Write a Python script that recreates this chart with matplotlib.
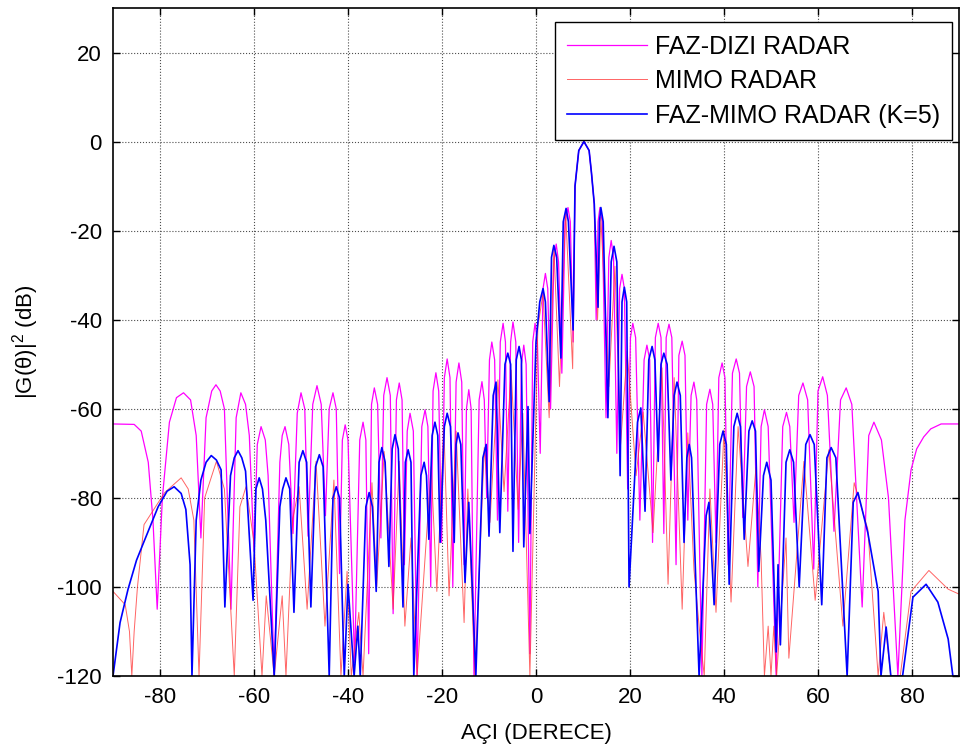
import matplotlib
matplotlib.use("Agg")
import matplotlib.pyplot as plt

plt.rcParams['font.family'] = ['Liberation Sans', 'DejaVu Sans']
plt.rcParams['mathtext.fontset'] = 'custom'
plt.rcParams['mathtext.rm'] = 'Liberation Sans'
plt.rcParams['axes.unicode_minus'] = False

# FAZ-DIZI RADAR (magenta) - angle (deg) / level (dB)
faz_aci = [-90, -85.5, -84, -82.5, -81.5, -80.6, -79.5, -78, -76.5, -75, -73.5, -72.3, -71.3,
           -70.2, -69, -68.1, -67.2, -66.3, -64.9, -63.8, -62.8, -61.8, -61, -60, -59.3, -58.5,
           -57.6, -57, -55.7, -54.5, -54, -53.4, -52.6, -51.7, -50.8, -50, -49.2, -48.5, -47.5,
           -46.6, -45.7, -44.8, -44, -43.2, -42.5, -41.8, -41.2, -40.6, -40, -38.6, -37.5, -36.8,
           -36.2, -35.6, -35, -34.4, -33.7, -33, -32.4, -31.7, -31, -30.4, -29.7, -29.1, -28.5,
           -28, -27.4, -26.8, -26.1, -25.3, -24.3, -23.6, -23, -22.4, -21.9, -21.3, -20.7, -20.1,
           -19.5, -18.9, -18.3, -17.7, -17, -16.4, -15.8, -15.3, -14.8, -14.3, -13.8, -13.2,
           -12.1, -11.5, -11, -10.5, -9.9, -9.4, -8.8, -8.2, -7.6, -7, -6.5, -6, -5.4, -4.9,
           -4.3, -3.7, -3.1, -2.6, -2.1, -1.3, -0.7, -0.2, 0.3, 0.9, 1.5, 2, 2.5, 3.1, 3.8, 4.3,
           4.8, 5.5, 6.2, 6.8, 7.3, 7.9, 8.3, 9.1, 10.2, 11.3, 11.8, 12.4, 12.8, 13.2, 13.6,
           14.1, 14.9, 15.5, 16, 16.5, 17.2, 17.8, 18.3, 18.8, 19.5, 20.1, 20.6, 21.2, 22.1, 23,
           23.6, 24.2, 24.8, 25.4, 26, 26.6, 27.2, 27.7, 28.3, 28.9, 29.8, 30.4, 31.1, 31.7,
           32.3, 33, 33.6, 34.2, 35.3, 36.3, 37, 37.6, 38.3, 38.9, 39.6, 40.2, 40.9, 41.8, 42.6,
           43.3, 44, 44.8, 45.6, 46.4, 47.2, 47.9, 48.6, 49.4, 51.1, 52.5, 53.3, 54, 54.9, 55.9,
           56.8, 57.8, 59.1, 60, 61, 62, 63.4, 64.8, 66, 67.2, 69.4, 70.8, 71.9, 73.5, 75, 77,
           78.5, 79.8, 81, 82.5, 84, 86.2, 90]
faz_db = [-63.4, -63.5, -65, -72, -85, -105, -80, -63, -57.5, -56.4, -58, -66, -89,
          -62, -56, -54.6, -56, -60, -105, -62, -56.4, -59, -66, -92, -68, -64,
          -67, -75, -120, -72, -66, -64, -68, -88, -61, -56.4, -60, -88.6, -59,
          -54.8, -59, -84, -60, -56.4, -60, -97, -67, -63.6, -67, -117, -67, -63,
          -67, -115, -59, -55.3, -59, -89, -57, -53, -57, -106, -58, -54.2, -58,
          -95, -65, -61, -65, -120, -64, -60.2, -64, -100, -56, -51.9, -56, -90,
          -53, -48.8, -53, -100, -54, -49.7, -54, -95, -60, -55.7, -60, -120,
          -58, -53.9, -58, -80, -49, -45, -49, -85, -45, -40.8, -45, -83, -45, -40.5,
          -45, -90, -50, -45.7, -50, -115, -45, -40.8, -45, -70, -33, -29.6, -33, -60, -27, -23,
          -27, -52, -18, -14.8, -18, -45, -10, -2, 0, -2, -7, -14, -40, -18, -14.8,
          -18, -62, -26, -22.2, -26, -70, -33, -29.8, -33, -78, -44, -40.8, -44, -85, -49,
          -45.7, -49, -90, -44, -40.8, -44, -88, -44, -41, -44, -95, -48, -44.8, -48,
          -85, -57, -54, -58, -120, -59, -55.6, -59, -90, -53, -49.7, -53, -95, -52, -48.8,
          -52, -84.4, -55, -51.7, -55, -100, -64, -60.2, -64, -120, -64, -60.8, -64, -85.5, -57,
          -54.2, -58, -96, -56, -52.8, -57, -87.5, -58, -55.3, -59, -104.5, -66, -63, -67, -80, -120,
          -85, -73.7, -69, -66.3, -64.5, -63.4, -63.4]

# MIMO RADAR (red)
mimo_aci = [-90, -87.4, -86.5, -86, -85.5, -84.8, -83.4, -79, -75.5, -74, -72.8, -71.7, -70.5, -68,
            -66.3, -64.2, -63, -61.7, -60, -58.3, -57.4, -55.7, -54, -53.2, -51.8, -50.4, -48.7,
            -46.8, -44.9, -43, -41.5, -40.2, -39.3, -37.7, -36.8, -34.9, -33.9, -32.3, -30.4,
            -29.1, -27.9, -26.6, -25.3, -22.3, -21.1, -19.6, -18.5, -17, -15.3, -14.5, -13, -11,
            -9.8, -8.1, -6.8, -5.3, -3.8, -2.8, -1.3, 0.4, 1.5, 2.8, 3.8, 5, 6.3, 7.8, 8.3, 9.1,
            10.2, 11.3, 11.8, 12.4, 13.1, 13.8, 15.5, 16.8, 18, 19.4, 21.3, 22.8, 24.9, 26.8, 28.1,
            29.4, 31.1, 32.3, 33.6, 34.9, 35.8, 37, 38.3, 40, 41.5, 43, 45.1, 46.8, 47.9, 48.6,
            49.4, 50, 50.6, 51.2, 53.2, 53.8, 57, 59.4, 62.3, 65.3, 67.7, 70.6, 72.8, 74, 75.5,
            77.5, 79.8, 83.6, 87.7, 90]
mimo_db = [-101, -104, -110, -120, -110, -100, -86, -78.8, -75.5, -78, -85, -120, -80, -71.8,
           -78, -120, -82, -77.5, -90, -120, -102, -120, -102, -120, -85, -77.5, -105,
           -71.8, -108.8, -76, -120, -96.5, -120, -105.7, -120, -76.6, -100, -69.6, -105,
           -71.8, -108.8, -89, -120, -73, -101, -64, -102, -65, -108, -78, -120, -68.7,
           -85.5, -53.5, -78.6, -51.3, -82.6, -61, -120, -41.6, -34, -62, -23.5, -55, -15.5, -51, -10, -2,
           0, -2, -7, -14, -40, -17, -55, -28, -68, -47, -75, -60.7, -87.8, -50.8, -99.4,
           -53, -105, -65.4, -96, -111, -120, -78, -105.7, -64.7, -103.4, -64, -95.4, -73.2, -93.8, -120,
           -108.8, -120, -108.8, -120, -89, -116, -71.8, -103, -69.2, -108.8, -76.6, -87, -120, -105.7, -120,
           -120, -101, -96.3, -100.5, -101.6]

# FAZ-MIMO RADAR K=5 (blue)
fm_aci = [-90, -88.5, -86.8, -85, -83.4, -80.4, -78.5, -77, -75.5, -74.5, -73.6, -73.2, -72.3,
          -71.3, -70.2, -69.1, -68, -67, -66.2, -65, -64.2, -63.4, -62.6, -61.8, -60.2, -59.6,
          -58.9, -58.2, -57.5, -55.7, -54.5, -53.9, -53.2, -52.4, -51.5, -50.4, -49.6, -48.8,
          -47.9, -46.9, -46.1, -45.3, -44, -43.2, -42.5, -41.8, -40.8, -40, -38.7, -37.9, -37.4,
          -36.2, -35.5, -34.8, -34, -33.4, -32.8, -32.1, -31.3, -30.6, -30, -29.3, -28.3, -27.8,
          -27.2, -26.6, -26, -24.5, -23.8, -23.3, -22.8, -22.1, -21.5, -20.9, -20.4, -19.5, -18.9,
          -18.2, -17.4, -17, -16.6, -16, -15.1, -14.3, -12.8, -11.3, -10.6, -10, -9.1, -8.5, -7.7,
          -6.6, -6, -5.4, -4.9, -4.2, -3.6, -3.1, -2.6, -1.7, -1.3, 0, 0.8, 1.5, 2, 2.8, 3.3,
          3.8, 4.4, 5.3, 5.8, 6.4, 6.9, 7.9, 8.3, 9.1, 10.2, 11.3, 11.8, 12.4, 13.2, 13.5, 13.8,
          14.3, 15.3, 16, 16.6, 17.2, 17.9, 18.3, 18.8, 19.3, 19.8, 21.6, 22.3, 23.2, 24, 24.7,
          25.3, 26, 26.6, 27.2, 27.9, 28.7, 29.4, 30, 30.7, 31.5, 32.1, 32.6, 33.1, 34.7, 36.2,
          36.8, 37.9, 39.1, 39.8, 40.5, 41.1, 42.1, 42.8, 43.5, 44.3, 45.3, 46, 46.7, 47.4, 48.4,
          49.1, 50, 51.1, 51.5, 52, 53.2, 54, 54.8, 56, 57.4, 58.3, 59.2, 60.8, 61.9, 62.8, 63.8,
          66.2, 67.5, 68.5, 70.6, 72.8, 73.4, 74.5, 75.5, 78, 80.2, 83, 85.5, 87.7, 88.7, 90]
fm_db = [-120, -108, -100.5, -94, -89.8, -82, -78.5, -77.5, -79, -82.6, -95, -120, -85,
         -76, -72, -70.5, -71.5, -73.7, -104.5, -75, -71, -69.4, -71, -74, -103, -78,
         -75.5, -78, -85, -120, -82, -78, -75.5, -78, -105.7, -72, -69.4, -72,
         -104.5, -73, -70.3, -73, -120, -80, -77.5, -80, -120, -99.4, -120, -108.8, -120,
         -82, -78.8, -82, -101, -72, -68.7, -72, -95.4, -69, -65.8, -69, -104.5, -72,
         -69.2, -72, -120, -75, -72, -75, -89.3, -66, -63, -66, -90, -64, -61,
         -64, -90, -68, -65.4, -68, -99, -81, -120, -71, -68, -88.6, -57, -54, -87.8,
         -50, -47.5, -50, -92, -49, -46, -49, -91, -59.5, -88, -45, -36, -33, -36, -58.4, -26,
         -23.3, -26, -48.6, -18, -15, -18, -42.3, -10, -2, 0, -2, -7, -14, -37.2, -18, -14.8,
         -18, -62, -27, -23.5, -27, -75, -36, -32.7, -36, -100, -63, -59.8, -83, -49, -46,
         -49, -71.8, -50, -47.5, -50, -76, -57, -54, -57, -90, -71, -68, -71, -120, -84,
         -81, -104, -68, -65, -68, -99.4, -64, -61, -64, -89.3, -65, -62.7, -65, -96.5, -75,
         -72, -76, -114.6, -95, -113, -72, -69.2, -72, -100, -68, -65.8, -68, -104, -71, -68.7, -71,
         -120, -81, -78.8, -87.8, -101, -120, -109, -120, -120, -102.3, -99.4, -103.4, -111.7, -120, -120]

x_ticks = list(range(-80, 81, 20))
y_ticks = list(range(-120, 21, 20))

fig = plt.figure(figsize=(9.61, 7.56), dpi=100)
ax = fig.add_axes([0.1176, 0.1058, 0.8803, 0.8836])

ax.plot(faz_aci, faz_db, color='#FF00FF', lw=0.9, label='FAZ-DIZI RADAR')
ax.plot(mimo_aci, mimo_db, color='#FF3030', lw=0.7, alpha=0.75, label='MIMO RADAR')
ax.plot(fm_aci, fm_db, color='#0000FF', lw=1.2, label='FAZ-MIMO RADAR (K=5)')

ax.set_xlim(-90, 90)
ax.set_ylim(-120, 30)
ax.set_xticks(x_ticks)
ax.set_yticks(y_ticks)
ax.tick_params(direction='in', top=True, right=True, length=5, width=1, labelsize=16, pad=8)
ax.grid(True, linestyle=':', color='0.3', linewidth=0.8)
for s in ax.spines.values():
    s.set_linewidth(1.2)

ax.set_xlabel('AÇI (DERECE)', fontsize=16, labelpad=11)
ax.set_ylabel('|G(θ)|$^{2}$ (dB)', fontsize=16, labelpad=12)

leg = ax.legend(loc='upper right', bbox_to_anchor=(0.992, 0.979), borderaxespad=0,
                fontsize=18, fancybox=False, framealpha=1, edgecolor='k',
                handlelength=3.2, handletextpad=0.3, labelspacing=0.42, borderpad=0.5)
leg.get_frame().set_linewidth(1.0)

plt.savefig('out.png', dpi=100)
